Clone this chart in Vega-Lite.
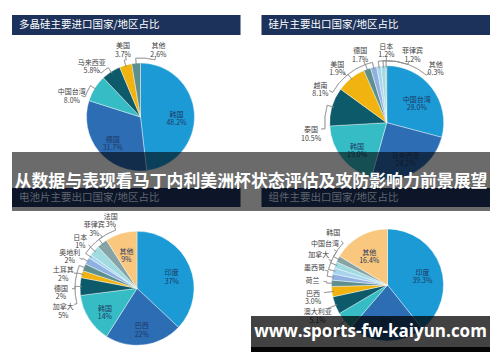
{
  "$schema": "https://vega.github.io/schema/vega-lite/v6.json",
  "background": "white",
  "padding": {"left": 12, "top": 15, "right": 0, "bottom": 0},
  "config": {
    "view": {"stroke": null},
    "font": "Noto Sans CJK SC",
    "text": {"font": "Noto Sans CJK SC"},
    "range": {"ordinal": ["#1b9ad6", "#2c6db4", "#35bcc5", "#0c5a6a", "#f0b310", "#5d8f8d", "#8eb1e2", "#a9d4ee", "#9fdbe0", "#86a3a5", "#f9c77d"]}
  },
  "spacing": 0,
  "bounds": "flush",
  "vconcat": [
    {
      "width": 478, "height": 20,
      "data": {"values": [{"col": "A", "t": "多晶硅主要进口国家/地区占比"}, {"col": "B", "t": "硅片主要出口国家/地区占比"}]},
      "layer": [
        {"mark": {"type": "rect", "fill": "#1d325a"},
         "encoding": {"x": {"field": "col", "type": "nominal", "axis": null, "scale": {"paddingInner": 0.084, "paddingOuter": 0}}, "y": {"value": 0}, "y2": {"value": "height"}}},
        {"mark": {"type": "text", "align": "left", "dx": 7, "fill": "#ffffff", "fontSize": 10.5},
         "encoding": {"x": {"field": "col", "type": "nominal", "axis": null, "bandPosition": 0}, "text": {"field": "t"}}}
      ]
    },
    {
      "width": 478, "height": 117,
      "resolve": {"scale": {"theta": "independent", "color": "independent"}},
      "layer": [
        {
          "data": {"values": [
            {"o": 1, "name": "韩国", "v": 48.2, "p": "48.2%"},
            {"o": 2, "name": "德国", "v": 31.7, "p": "31.7%"},
            {"o": 3, "name": "中国台湾", "v": 8.0, "p": "8.0%"},
            {"o": 4, "name": "马来西亚", "v": 5.8, "p": "5.8%"},
            {"o": 5, "name": "美国", "v": 3.7, "p": "3.7%"},
            {"o": 6, "name": "其他", "v": 2.6, "p": "2.6%"}
          ]},
          "transform": [
            {"joinaggregate": [{"op": "sum", "field": "v", "as": "tot"}]},
            {"calculate": "datum.v / datum.tot * 100", "as": "pv"},
            {"window": [{"op": "sum", "field": "pv", "as": "cum"}], "sort": [{"field": "o"}], "frame": [null, 0]},
            {"calculate": "datum.cum - datum.pv / 2", "as": "mid"},
            {"calculate": "datum.p ? datum.name + '\\n' + datum.p : datum.name", "as": "label"}
          ],
          "layer": [
            {"mark": {"type": "arc", "x": 128.5, "y": 82, "radius": 54, "stroke": "#ffffff", "strokeWidth": 0.4},
             "encoding": {"theta": {"field": "pv", "type": "quantitative", "stack": true, "scale": {"domain": [0, 100]}}, "order": {"field": "o", "type": "quantitative"}, "color": {"field": "o", "type": "ordinal", "legend": null}}},
            {"transform": [{"filter": "datum.pv >= 12"}],
             "mark": {"type": "text", "x": 128.5, "y": 82, "radius": 36, "lineBreak": "\n", "lineHeight": 8.5, "fontSize": 7, "fill": "#1f3864"},
             "encoding": {"theta": {"field": "mid", "type": "quantitative", "scale": {"domain": [0, 100]}}, "text": {"field": "label"}}},
            {"transform": [
                {"filter": "datum.pv < 12"},
                {"window": [{"op": "row_number", "as": "rk"}], "sort": [{"field": "o"}]},
                {"calculate": "datum.mid - datum.rk * 7.8", "as": "a"},
                {"window": [{"op": "max", "field": "a", "as": "am"}], "sort": [{"field": "o"}], "frame": [null, 0]},
                {"calculate": "datum.am + datum.rk * 7.8 - datum.mid", "as": "d"},
                {"joinaggregate": [{"op": "mean", "field": "d", "as": "md"}]},
                {"calculate": "datum.mid + datum.d - datum.md", "as": "la"}
              ],
             "layer": [
               {"mark": {"type": "arc", "x": 128.5, "y": 82, "radius": 59, "radius2": 52, "filled": false, "stroke": "#8c8c8c", "strokeWidth": 0.6},
                "encoding": {"theta": {"field": "mid", "type": "quantitative", "scale": {"domain": [0, 100]}}, "theta2": {"field": "mid"}}},
               {"mark": {"type": "arc", "x": 128.5, "y": 82, "radius": 59, "radius2": 59, "filled": false, "stroke": "#8c8c8c", "strokeWidth": 0.6},
                "encoding": {"theta": {"field": "mid", "type": "quantitative", "scale": {"domain": [0, 100]}}, "theta2": {"field": "la"}}},
               {"mark": {"type": "arc", "x": 128.5, "y": 82, "radius": 63, "radius2": 59, "filled": false, "stroke": "#8c8c8c", "strokeWidth": 0.6},
                "encoding": {"theta": {"field": "la", "type": "quantitative", "scale": {"domain": [0, 100]}}, "theta2": {"field": "la"}}},
               {"mark": {"type": "text", "x": 128.5, "y": 82, "radius": 73, "lineBreak": "\n", "lineHeight": 8.5, "fontSize": 7, "fill": "#404040"},
                "encoding": {"theta": {"field": "la", "type": "quantitative", "scale": {"domain": [0, 100]}}, "text": {"field": "label"}}}
             ]}
          ]
        },
        {
          "data": {"values": [
            {"o": 1, "name": "中国台湾", "v": 28.0, "p": "28.0%"},
            {"o": 2, "name": "马来西亚", "v": 24.2, "p": "24.2%"},
            {"o": 3, "name": "韩国", "v": 19.0, "p": "19.0%"},
            {"o": 4, "name": "泰国", "v": 10.5, "p": "10.5%"},
            {"o": 5, "name": "越南", "v": 8.1, "p": "8.1%"},
            {"o": 6, "name": "美国", "v": 1.9, "p": "1.9%"},
            {"o": 7, "name": "德国", "v": 1.7, "p": "1.7%"},
            {"o": 8, "name": "日本", "v": 1.2, "p": "1.2%"},
            {"o": 9, "name": "菲律宾", "v": 1.2, "p": "1.2%"},
            {"o": 10, "name": "其他", "v": 0.3, "p": "0.3%"}
          ]},
          "transform": [
            {"joinaggregate": [{"op": "sum", "field": "v", "as": "tot"}]},
            {"calculate": "datum.v / datum.tot * 100", "as": "pv"},
            {"window": [{"op": "sum", "field": "pv", "as": "cum"}], "sort": [{"field": "o"}], "frame": [null, 0]},
            {"calculate": "datum.cum - datum.pv / 2", "as": "mid"},
            {"calculate": "datum.p ? datum.name + '\\n' + datum.p : datum.name", "as": "label"}
          ],
          "layer": [
            {"mark": {"type": "arc", "x": 374.7, "y": 87.7, "radius": 57, "stroke": "#ffffff", "strokeWidth": 0.4},
             "encoding": {"theta": {"field": "pv", "type": "quantitative", "stack": true, "scale": {"domain": [0, 100]}}, "order": {"field": "o", "type": "quantitative"}, "color": {"field": "o", "type": "ordinal", "legend": null}}},
            {"transform": [{"filter": "datum.pv >= 15"}],
             "mark": {"type": "text", "x": 374.7, "y": 87.7, "radius": 38, "lineBreak": "\n", "lineHeight": 8.5, "fontSize": 7, "fill": "#1f3864"},
             "encoding": {"theta": {"field": "mid", "type": "quantitative", "scale": {"domain": [0, 100]}}, "text": {"field": "label"}}},
            {"transform": [
                {"filter": "datum.pv < 15"},
                {"window": [{"op": "row_number", "as": "rk"}], "sort": [{"field": "o"}]},
                {"calculate": "datum.mid - datum.rk * 5.6", "as": "a"},
                {"window": [{"op": "max", "field": "a", "as": "am"}], "sort": [{"field": "o"}], "frame": [null, 0]},
                {"calculate": "datum.am + datum.rk * 5.6 - datum.mid", "as": "d"},
                {"joinaggregate": [{"op": "mean", "field": "d", "as": "md"}]},
                {"calculate": "datum.mid + datum.d - datum.md", "as": "la"}
              ],
             "layer": [
               {"mark": {"type": "arc", "x": 374.7, "y": 87.7, "radius": 62, "radius2": 55, "filled": false, "stroke": "#8c8c8c", "strokeWidth": 0.6},
                "encoding": {"theta": {"field": "mid", "type": "quantitative", "scale": {"domain": [0, 100]}}, "theta2": {"field": "mid"}}},
               {"mark": {"type": "arc", "x": 374.7, "y": 87.7, "radius": 62, "radius2": 62, "filled": false, "stroke": "#8c8c8c", "strokeWidth": 0.6},
                "encoding": {"theta": {"field": "mid", "type": "quantitative", "scale": {"domain": [0, 100]}}, "theta2": {"field": "la"}}},
               {"mark": {"type": "arc", "x": 374.7, "y": 87.7, "radius": 66, "radius2": 62, "filled": false, "stroke": "#8c8c8c", "strokeWidth": 0.6},
                "encoding": {"theta": {"field": "la", "type": "quantitative", "scale": {"domain": [0, 100]}}, "theta2": {"field": "la"}}},
               {"mark": {"type": "text", "x": 374.7, "y": 87.7, "radius": 76, "lineBreak": "\n", "lineHeight": 8.5, "fontSize": 7, "fill": "#404040"},
                "encoding": {"theta": {"field": "la", "type": "quantitative", "scale": {"domain": [0, 100]}}, "text": {"field": "label"}}}
             ]}
          ]
        }
      ]
    },
    {
      "width": 478, "height": 36,
      "view": {"fill": "#000000", "fillOpacity": 0.58, "stroke": null},
      "data": {"values": [{}]},
      "mark": {"type": "text", "text": ""}
    },
    {
      "width": 478, "height": 19,
      "view": {"fill": "#000000", "fillOpacity": 0.58, "stroke": null},
      "data": {"values": [{"col": "C", "t": "电池片主要出口国家/地区占比"}, {"col": "D", "t": "组件主要出口国家/地区占比"}]},
      "layer": [
        {"mark": {"type": "rect", "fill": "#0c1628"},
         "encoding": {"x": {"field": "col", "type": "nominal", "axis": null, "scale": {"paddingInner": 0.084, "paddingOuter": 0}}, "y": {"value": 0}, "y2": {"value": "height"}}},
        {"mark": {"type": "text", "align": "left", "dx": 7, "fill": "#5f6570", "fontSize": 10.5},
         "encoding": {"x": {"field": "col", "type": "nominal", "axis": null, "bandPosition": 0}, "text": {"field": "t"}}},
        {"data": {"values": [{"t": "从数据与表现看马丁内利美洲杯状态评估及攻防影响力前景展望"}]},
         "mark": {"type": "text", "fill": "#ffffff", "fontSize": 16.9, "fontWeight": "bold", "dy": -16},
         "encoding": {"text": {"field": "t"}}}
      ]
    },
    {
      "width": 478, "height": 4,
      "view": {"fill": "#000000", "fillOpacity": 0.58, "stroke": null},
      "data": {"values": [{}]},
      "mark": {"type": "text", "text": ""}
    },
    {
      "width": 478, "height": 105,
      "resolve": {"scale": {"theta": "independent", "color": "independent"}},
      "layer": [
        {
          "data": {"values": [
            {"o": 1, "name": "印度", "v": 37, "p": "37%"},
            {"o": 2, "name": "巴西", "v": 22, "p": "22%"},
            {"o": 3, "name": "韩国", "v": 14, "p": "14%"},
            {"o": 4, "name": "加拿大", "v": 5, "p": "5%"},
            {"o": 5, "name": "德国", "v": 2, "p": "2%"},
            {"o": 6, "name": "土耳其", "v": 2, "p": "2%"},
            {"o": 7, "name": "奥地利", "v": 2, "p": "2%"},
            {"o": 8, "name": "日本", "v": 1, "p": "1%"},
            {"o": 9, "name": "菲律宾", "v": 3, "p": "3%"},
            {"o": 10, "name": "法国", "v": 3, "p": "3%"},
            {"o": 11, "name": "其他", "v": 9, "p": "9%"}
          ]},
          "transform": [
            {"joinaggregate": [{"op": "sum", "field": "v", "as": "tot"}]},
            {"calculate": "datum.v / datum.tot * 100", "as": "pv"},
            {"window": [{"op": "sum", "field": "pv", "as": "cum"}], "sort": [{"field": "o"}], "frame": [null, 0]},
            {"calculate": "datum.cum - datum.pv / 2", "as": "mid"},
            {"calculate": "datum.p ? datum.name + '\\n' + datum.p : datum.name", "as": "label"}
          ],
          "layer": [
            {"mark": {"type": "arc", "x": 125, "y": 77.3, "radius": 57, "stroke": "#ffffff", "strokeWidth": 0.4},
             "encoding": {"theta": {"field": "pv", "type": "quantitative", "stack": true, "scale": {"domain": [0, 100]}}, "order": {"field": "o", "type": "quantitative"}, "color": {"field": "o", "type": "ordinal", "legend": null}}},
            {"transform": [{"filter": "datum.pv >= 8"}],
             "mark": {"type": "text", "x": 125, "y": 77.3, "radius": 38, "lineBreak": "\n", "lineHeight": 8.5, "fontSize": 7, "fill": "#1f3864"},
             "encoding": {"theta": {"field": "mid", "type": "quantitative", "scale": {"domain": [0, 100]}}, "text": {"field": "label"}}},
            {"transform": [
                {"filter": "datum.pv < 8"},
                {"window": [{"op": "row_number", "as": "rk"}], "sort": [{"field": "o"}]},
                {"calculate": "datum.mid - datum.rk * 3.9", "as": "a"},
                {"window": [{"op": "max", "field": "a", "as": "am"}], "sort": [{"field": "o"}], "frame": [null, 0]},
                {"calculate": "datum.am + datum.rk * 3.9 - datum.mid", "as": "d"},
                {"joinaggregate": [{"op": "mean", "field": "d", "as": "md"}]},
                {"calculate": "datum.mid + datum.d - datum.md", "as": "la"}
              ],
             "layer": [
               {"mark": {"type": "arc", "x": 125, "y": 77.3, "radius": 62, "radius2": 55, "filled": false, "stroke": "#8c8c8c", "strokeWidth": 0.6},
                "encoding": {"theta": {"field": "mid", "type": "quantitative", "scale": {"domain": [0, 100]}}, "theta2": {"field": "mid"}}},
               {"mark": {"type": "arc", "x": 125, "y": 77.3, "radius": 62, "radius2": 62, "filled": false, "stroke": "#8c8c8c", "strokeWidth": 0.6},
                "encoding": {"theta": {"field": "mid", "type": "quantitative", "scale": {"domain": [0, 100]}}, "theta2": {"field": "la"}}},
               {"mark": {"type": "arc", "x": 125, "y": 77.3, "radius": 65, "radius2": 62, "filled": false, "stroke": "#8c8c8c", "strokeWidth": 0.6},
                "encoding": {"theta": {"field": "la", "type": "quantitative", "scale": {"domain": [0, 100]}}, "theta2": {"field": "la"}}},
               {"mark": {"type": "text", "x": 125, "y": 77.3, "radius": 76, "lineBreak": "\n", "lineHeight": 8.5, "fontSize": 7, "fill": "#404040"},
                "encoding": {"theta": {"field": "la", "type": "quantitative", "scale": {"domain": [0, 100]}}, "text": {"field": "label"}}}
             ]}
          ]
        },
        {
          "data": {"values": [
            {"o": 1, "name": "印度", "v": 39.3, "p": "39.3%"},
            {"o": 2, "name": "日本", "v": 22.0, "p": "22.0%"},
            {"o": 3, "name": "巴基斯坦", "v": 5.2},
            {"o": 4, "name": "澳大利亚", "v": 5.1, "p": "5.1%"},
            {"o": 5, "name": "巴西", "v": 3.0, "p": "3.0%"},
            {"o": 6, "name": "荷兰", "v": 1.8},
            {"o": 7, "name": "墨西哥", "v": 1.8},
            {"o": 8, "name": "加拿大", "v": 1.8},
            {"o": 9, "name": "中国台湾", "v": 1.8},
            {"o": 10, "name": "韩国", "v": 1.8},
            {"o": 11, "name": "其他", "v": 16.4, "p": "16.4%"}
          ]},
          "transform": [
            {"joinaggregate": [{"op": "sum", "field": "v", "as": "tot"}]},
            {"calculate": "datum.v / datum.tot * 100", "as": "pv"},
            {"window": [{"op": "sum", "field": "pv", "as": "cum"}], "sort": [{"field": "o"}], "frame": [null, 0]},
            {"calculate": "datum.cum - datum.pv / 2", "as": "mid"},
            {"calculate": "datum.p ? datum.name + '\\n' + datum.p : datum.name", "as": "label"}
          ],
          "layer": [
            {"mark": {"type": "arc", "x": 375.5, "y": 74, "radius": 56, "stroke": "#ffffff", "strokeWidth": 0.4},
             "encoding": {"theta": {"field": "pv", "type": "quantitative", "stack": true, "scale": {"domain": [0, 100]}}, "order": {"field": "o", "type": "quantitative"}, "color": {"field": "o", "type": "ordinal", "legend": null}}},
            {"transform": [{"filter": "datum.pv >= 10"}],
             "mark": {"type": "text", "x": 375.5, "y": 74, "radius": 37, "lineBreak": "\n", "lineHeight": 8.5, "fontSize": 7, "fill": "#1f3864"},
             "encoding": {"theta": {"field": "mid", "type": "quantitative", "scale": {"domain": [0, 100]}}, "text": {"field": "label"}}},
            {"transform": [
                {"filter": "datum.pv < 10"},
                {"window": [{"op": "row_number", "as": "rk"}], "sort": [{"field": "o"}]},
                {"calculate": "datum.mid - datum.rk * 2.8", "as": "a"},
                {"window": [{"op": "max", "field": "a", "as": "am"}], "sort": [{"field": "o"}], "frame": [null, 0]},
                {"calculate": "datum.am + datum.rk * 2.8", "as": "la"}
              ],
             "layer": [
               {"mark": {"type": "arc", "x": 375.5, "y": 74, "radius": 61, "radius2": 54, "filled": false, "stroke": "#8c8c8c", "strokeWidth": 0.6},
                "encoding": {"theta": {"field": "mid", "type": "quantitative", "scale": {"domain": [0, 100]}}, "theta2": {"field": "mid"}}},
               {"mark": {"type": "arc", "x": 375.5, "y": 74, "radius": 61, "radius2": 61, "filled": false, "stroke": "#8c8c8c", "strokeWidth": 0.6},
                "encoding": {"theta": {"field": "mid", "type": "quantitative", "scale": {"domain": [0, 100]}}, "theta2": {"field": "la"}}},
               {"mark": {"type": "arc", "x": 375.5, "y": 74, "radius": 64, "radius2": 61, "filled": false, "stroke": "#8c8c8c", "strokeWidth": 0.6},
                "encoding": {"theta": {"field": "la", "type": "quantitative", "scale": {"domain": [0, 100]}}, "theta2": {"field": "la"}}},
               {"mark": {"type": "text", "x": 375.5, "y": 74, "radius": 75, "lineBreak": "\n", "lineHeight": 8.5, "fontSize": 7, "fill": "#404040"},
                "encoding": {"theta": {"field": "la", "type": "quantitative", "scale": {"domain": [0, 100]}}, "text": {"field": "label"}}}
             ]}
          ]
        }
      ]
    },
    {
      "width": 478, "height": 31,
      "data": {"values": [{"col": "D", "t": "www.sports-fw-kaiyun.com"}]},
      "encoding": {"x": {"field": "col", "type": "nominal", "axis": null, "scale": {"domain": ["C", "D"], "paddingInner": 0, "paddingOuter": 0}}},
      "layer": [
        {"mark": {"type": "rect", "fill": "#000000", "fillOpacity": 0.74}, "encoding": {"y": {"value": 0}, "y2": {"value": "height"}}},
        {"mark": {"type": "text", "fill": "#ffffff", "font": "Open Sans", "fontWeight": "bold", "fontSize": 17}, "encoding": {"text": {"field": "t"}}}
      ]
    },
    {
      "width": 478, "height": 5,
      "data": {"values": [{"col": "D"}]},
      "mark": {"type": "rect", "fill": "#050505"},
      "encoding": {"x": {"field": "col", "type": "nominal", "axis": null, "scale": {"domain": ["C", "D"], "paddingInner": 0, "paddingOuter": 0}}, "y": {"value": 0}, "y2": {"value": "height"}}
    }
  ]
}
